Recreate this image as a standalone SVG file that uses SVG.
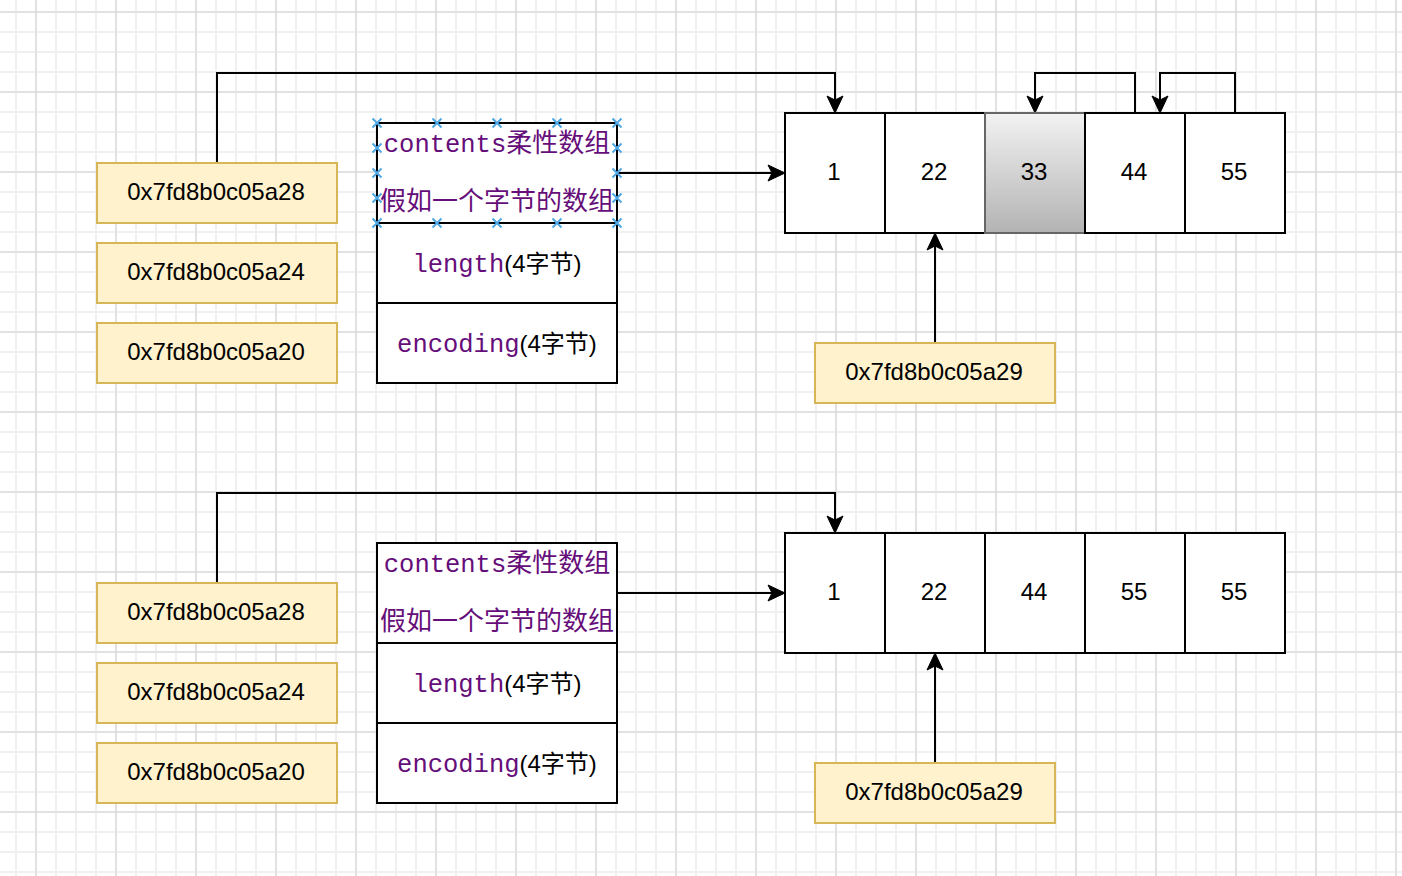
<svg xmlns="http://www.w3.org/2000/svg" width="1402" height="876" viewBox="0 0 1402 876">
<style>
.ptr rect{fill:#fff2cc;stroke:#d6b656;stroke-width:2}
.cell{fill:#ffffff;stroke:#000000;stroke-width:2}
.t{font-family:"Liberation Sans",Arial,"Noto Sans CJK SC",sans-serif;font-size:24px;fill:#000000;text-anchor:middle}
.mono{font-family:"Liberation Mono","Courier New",monospace;font-size:25.5px;fill:#660e7a}
.cjk{font-family:"Noto Sans CJK SC","Liberation Sans",sans-serif;font-size:26px;fill:#660e7a}
.cjk2{font-family:"Liberation Sans","Noto Sans CJK SC",sans-serif;font-size:24px;fill:#000000}
.conn path{fill:none;stroke:#000000;stroke-width:2}
.hx{stroke:#4ea9e6;stroke-width:2;fill:none}
</style>
<defs>
<pattern id="minor" patternUnits="userSpaceOnUse" x="6" y="2" width="20" height="20">
<path d="M0,10 H20 M10,0 V20" stroke="#f0f0f0" stroke-width="2" fill="none"/>
</pattern>
<pattern id="major" patternUnits="userSpaceOnUse" x="-4" y="-28" width="80" height="80">
<path d="M0,40 H80 M40,0 V80" stroke="#d3d3d3" stroke-width="1" fill="none"/>
</pattern>
<linearGradient id="grey" x1="0" y1="0" x2="0" y2="1">
<stop offset="0" stop-color="#f2f2f2"/>
<stop offset="1" stop-color="#b3b3b3"/>
</linearGradient>
<marker id="arr" markerUnits="userSpaceOnUse" viewBox="-5 -9 19 18" refX="0" refY="0" markerWidth="19" markerHeight="18" orient="auto">
<path d="M13,0 L-4,-8 L0,0 L-4,8 Z" fill="#000000" stroke="#000000" stroke-width="1" stroke-linejoin="miter"/>
</marker>
<path id="hx" d="M-4.5,-4.5 L4.5,4.5 M-4.5,4.5 L4.5,-4.5"/>
</defs>

<rect x="0" y="0" width="1402" height="876" fill="#ffffff"/>
<rect x="0" y="0" width="1402" height="876" fill="url(#minor)"/>
<rect x="0" y="0" width="1402" height="876" fill="url(#major)"/>

<g id="connectors" class="conn">
<path d="M217,163 V73 H835 V100" marker-end="url(#arr)"/>
<path d="M617,173 H772" marker-end="url(#arr)"/>
<path d="M935,343 V246" marker-end="url(#arr)"/>
<path d="M1135,113 V73 H1035 V100" marker-end="url(#arr)"/>
<path d="M1235,113 V73 H1160 V100" marker-end="url(#arr)"/>
<path d="M217,583 V493 H835 V520" marker-end="url(#arr)"/>
<path d="M617,593 H772" marker-end="url(#arr)"/>
<path d="M935,763 V666" marker-end="url(#arr)"/>
</g>

<!-- top section -->
<g id="ptr-a28-top" class="ptr"><rect x="97" y="163" width="240" height="60"/><text class="t" x="216" y="200">0x7fd8b0c05a28</text></g>
<g id="ptr-a24-top" class="ptr"><rect x="97" y="243" width="240" height="60"/><text class="t" x="216" y="280">0x7fd8b0c05a24</text></g>
<g id="ptr-a20-top" class="ptr"><rect x="97" y="323" width="240" height="60"/><text class="t" x="216" y="360">0x7fd8b0c05a20</text></g>

<g id="struct-top">
<rect class="cell" x="377" y="123" width="240" height="100"/>
<text x="497" y="152" text-anchor="middle"><tspan class="mono">contents</tspan><tspan class="cjk">柔性数组</tspan></text>
<text class="cjk" x="497" y="210" text-anchor="middle">假如一个字节的数组</text>
<rect class="cell" x="377" y="223" width="240" height="80"/>
<text x="497" y="271.5" text-anchor="middle"><tspan class="mono">length</tspan><tspan class="cjk2">(4字节)</tspan></text>
<rect class="cell" x="377" y="303" width="240" height="80"/>
<text x="497" y="351.5" text-anchor="middle"><tspan class="mono">encoding</tspan><tspan class="cjk2">(4字节)</tspan></text>
<g class="hx">
<use href="#hx" x="377" y="123"/><use href="#hx" x="437" y="123"/><use href="#hx" x="497" y="123"/><use href="#hx" x="557" y="123"/><use href="#hx" x="617" y="123"/>
<use href="#hx" x="377" y="223"/><use href="#hx" x="437" y="223"/><use href="#hx" x="497" y="223"/><use href="#hx" x="557" y="223"/><use href="#hx" x="617" y="223"/>
<use href="#hx" x="377" y="148"/><use href="#hx" x="377" y="173"/><use href="#hx" x="377" y="198"/>
<use href="#hx" x="617" y="148"/><use href="#hx" x="617" y="173"/><use href="#hx" x="617" y="198"/>
</g>
</g>

<g id="array-top">
<rect class="cell" x="785" y="113" width="100" height="120"/><text class="t" x="834" y="180">1</text>
<rect class="cell" x="885" y="113" width="100" height="120"/><text class="t" x="934" y="180">22</text>
<rect x="985" y="113" width="100" height="120" fill="url(#grey)" stroke="#666666" stroke-width="2"/><text class="t" x="1034" y="180">33</text>
<rect class="cell" x="1085" y="113" width="100" height="120"/><text class="t" x="1134" y="180">44</text>
<rect class="cell" x="1185" y="113" width="100" height="120"/><text class="t" x="1234" y="180">55</text>
</g>

<g id="ptr-a29-top" class="ptr"><rect x="815" y="343" width="240" height="60"/><text class="t" x="934" y="380">0x7fd8b0c05a29</text></g>

<!-- bottom section -->
<g id="ptr-a28-bottom" class="ptr"><rect x="97" y="583" width="240" height="60"/><text class="t" x="216" y="620">0x7fd8b0c05a28</text></g>
<g id="ptr-a24-bottom" class="ptr"><rect x="97" y="663" width="240" height="60"/><text class="t" x="216" y="700">0x7fd8b0c05a24</text></g>
<g id="ptr-a20-bottom" class="ptr"><rect x="97" y="743" width="240" height="60"/><text class="t" x="216" y="780">0x7fd8b0c05a20</text></g>

<g id="struct-bottom">
<rect class="cell" x="377" y="543" width="240" height="100"/>
<text x="497" y="572" text-anchor="middle"><tspan class="mono">contents</tspan><tspan class="cjk">柔性数组</tspan></text>
<text class="cjk" x="497" y="630" text-anchor="middle">假如一个字节的数组</text>
<rect class="cell" x="377" y="643" width="240" height="80"/>
<text x="497" y="691.5" text-anchor="middle"><tspan class="mono">length</tspan><tspan class="cjk2">(4字节)</tspan></text>
<rect class="cell" x="377" y="723" width="240" height="80"/>
<text x="497" y="771.5" text-anchor="middle"><tspan class="mono">encoding</tspan><tspan class="cjk2">(4字节)</tspan></text>
</g>

<g id="array-bottom">
<rect class="cell" x="785" y="533" width="100" height="120"/><text class="t" x="834" y="600">1</text>
<rect class="cell" x="885" y="533" width="100" height="120"/><text class="t" x="934" y="600">22</text>
<rect class="cell" x="985" y="533" width="100" height="120"/><text class="t" x="1034" y="600">44</text>
<rect class="cell" x="1085" y="533" width="100" height="120"/><text class="t" x="1134" y="600">55</text>
<rect class="cell" x="1185" y="533" width="100" height="120"/><text class="t" x="1234" y="600">55</text>
</g>

<g id="ptr-a29-bottom" class="ptr"><rect x="815" y="763" width="240" height="60"/><text class="t" x="934" y="800">0x7fd8b0c05a29</text></g>
</svg>
